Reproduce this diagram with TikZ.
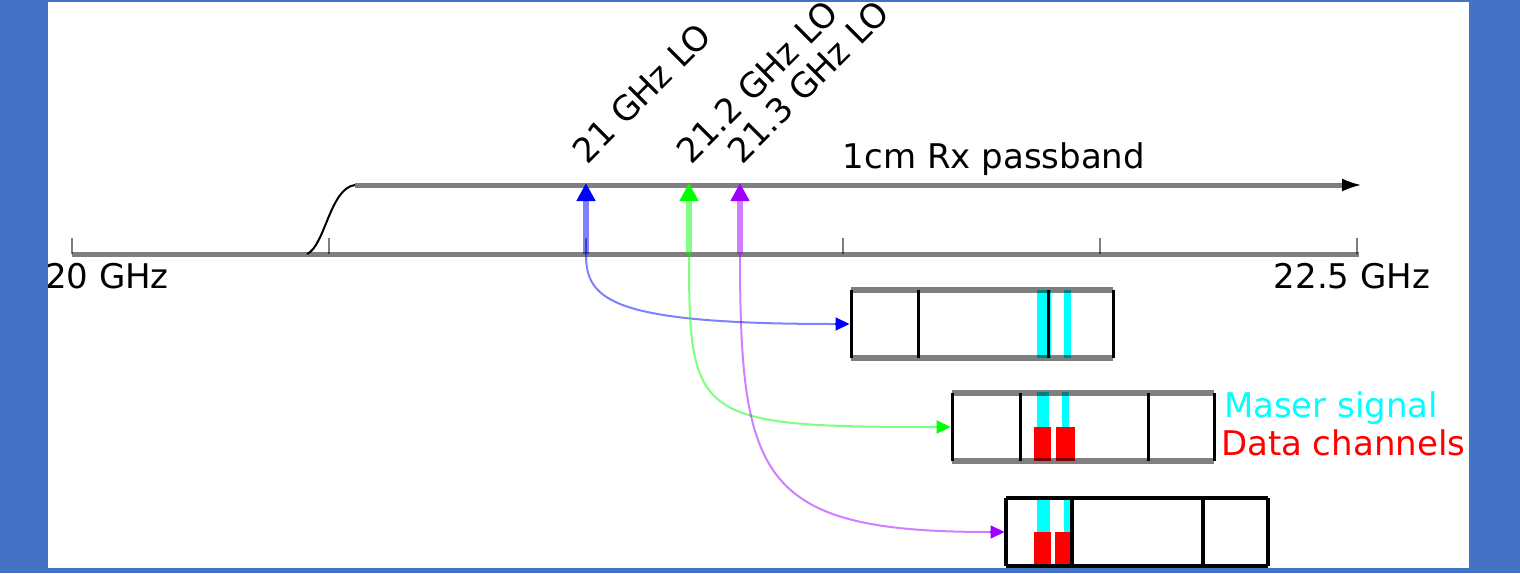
\documentclass[tikz,border=0pt]{standalone}
\usepackage{fontspec}
\setmainfont{DejaVu Sans}
\usetikzlibrary{arrows.meta}
\definecolor{slideblue}{HTML}{4472C4}
\definecolor{lopurple}{RGB}{160,0,255}
\definecolor{locyan}{RGB}{0,255,255}
\definecolor{lored}{RGB}{255,0,0}
\definecolor{logreen}{RGB}{0,255,0}
\definecolor{loblue}{RGB}{0,0,255}
\begin{document}
\begin{tikzpicture}[x=0.5pt,y=-0.5pt,
  lbl/.style={font=\fontsize{17}{20}\selectfont, inner sep=0pt, outer sep=0pt},
  axisline/.style={line width=2.5pt, draw=black, draw opacity=0.5},
  tickline/.style={line width=1.25pt, draw=black, draw opacity=0.5},
  loline/.style={line width=3pt, draw opacity=0.5},
  lotip/.style={-{Triangle[length=9pt,width=9pt]}, line width=3pt},
  ifline/.style={line width=1pt, draw opacity=0.5},
  iftip/.style={-{Triangle[length=7pt,width=6.5pt]}, line width=1pt},
  boxarea/.style={minimum width=131pt, minimum height=34pt, inner sep=0pt, outer sep=0pt},
  hborder/.style={line width=3pt, draw=black, draw opacity=0.5},
  vborder/.style={line width=1.5pt, draw=black},
  hborderdark/.style={line width=1.75pt, draw=black},
  vborderdark/.style={line width=1.75pt, draw=black},
  maser/.style={fill=locyan},
  datach/.style={fill=lored},
  ]
\useasboundingbox (0,0) rectangle (1520,573);
\fill[slideblue] (0,0) rectangle (1520,573);
\fill[white] (48,1.5) rectangle (1469,568);
\begin{scope}
\clip (48,1.5) rectangle (1469,568);

% frequency axis
\coordinate (ax0) at (72,254);
\coordinate (ax1) at (1359,254);
\draw[axisline] (ax0) -- (ax1);
\foreach \x in {72,329,586,843,1100,1357}
  \draw[tickline] (\x,238) -- (\x,254);

% passband
\coordinate (pb0) at (307,254);
\coordinate (pb1) at (355,185);
\coordinate (pb2) at (1342,185);
\coordinate (pbend) at (1361,185);
\draw[line width=1pt] (pb0) .. controls (325,246) and (330,188) .. (pb1);
\draw[axisline] (pb1) -- (pb2);
\draw[-{Latex[length=9.5pt,width=6.5pt]}, line width=1pt] (pb2) -- (pbend);

% LO arrows
\coordinate (f21) at (586,254);   \coordinate (t21b) at (586,201);  \coordinate (t21) at (586,183);
\coordinate (f212) at (689,254);  \coordinate (t212b) at (689,201); \coordinate (t212) at (689,183);
\coordinate (f213) at (740,254);  \coordinate (t213b) at (740,201); \coordinate (t213) at (740,183);
\draw[loline, draw=loblue] (f21) -- (t21b);
\draw[lotip, loblue] (t21b) -- (t21);
\draw[loline, draw=logreen] (f212) -- (t212b);
\draw[lotip, logreen] (t212b) -- (t212);
\draw[loline, draw=lopurple] (f213) -- (t213b);
\draw[lotip, lopurple] (t213b) -- (t213);

% IF boxes (areas)
\node[boxarea] (b1) at (982,324) {};
\node[boxarea] (b2) at (1083,427) {};
\node[boxarea] (b3) at (1137,532) {};

% curved arrows into boxes
\coordinate (e21b) at (835,324);
\coordinate (e212b) at (937,427);
\coordinate (e213b) at (990,532);
\draw[ifline, draw=loblue] (f21) .. controls (586,300) and (610,324) .. (e21b);
\draw[iftip, loblue, shorten >=0.75pt] (e21b) -- (b1.west);
\draw[ifline, draw=logreen] (f212) .. controls (689,420) and (695,427) .. (e212b);
\draw[iftip, logreen, shorten >=0.75pt] (e212b) -- (b2.west);
\draw[ifline, draw=lopurple] (f213) .. controls (740,480) and (760,532) .. (e213b);
\draw[iftip, lopurple, shorten >=0.75pt] (e213b) -- (b3.west);

% box 1 contents
\fill[maser] (1037,290) rectangle (1051,358);
\fill[maser] (1064,290) rectangle (1071,358);
% box 2 contents
\fill[maser] (1037,392) rectangle (1049,427);
\fill[maser] (1062,392) rectangle (1069,427);
\fill[datach] (1034,427) rectangle (1051,461);
\fill[datach] (1056,427) rectangle (1075,461);
% box 3 contents
\fill[maser] (1037,498) rectangle (1050,532);
\fill[maser] (1064,498) rectangle (1071,532);
\fill[datach] (1034,532) rectangle (1051,566);
\fill[datach] (1055,532) rectangle (1072,566);

% box 1 borders
\draw[vborder] (b1.north west) -- (b1.south west);
\draw[vborder] (918,290) -- (918,358);
\draw[vborder] (1048,290) -- (1048,358);
\draw[vborder] (b1.north east) -- (b1.south east);
\draw[hborder] (b1.north west) -- (b1.north east);
\draw[hborder] (b1.south west) -- (b1.south east);
% box 2 borders
\draw[vborder] (b2.north west) -- (b2.south west);
\draw[vborder] (1020,393) -- (1020,461);
\draw[vborder] (1148,393) -- (1148,461);
\draw[vborder] (b2.north east) -- (b2.south east);
\draw[hborder] (b2.north west) -- (b2.north east);
\draw[hborder] (b2.south west) -- (b2.south east);
% box 3 borders
\draw[vborderdark] (b3.north west) -- (b3.south west);
\draw[vborderdark] (1072,498) -- (1072,566);
\draw[vborderdark] (1203,498) -- (1203,566);
\draw[vborderdark] (b3.north east) -- (b3.south east);
\draw[hborderdark] (b3.north west) -- (b3.north east);
\draw[hborderdark] (b3.south west) -- (b3.south east);

% labels
\node[lbl, anchor=base west] (l20) at (45,288) {20 GHz};
\node[lbl, anchor=base] (l225) at (1352,288) {22.5 GHz};
\node[lbl, anchor=base] (lpb) at (994,168) {1cm Rx passband};
\node[lbl, rotate=45, anchor=base west] (l21) at (587,165) {21 GHz LO};
\node[lbl, rotate=45, anchor=base west] (l212) at (691,165) {21.2 GHz LO};
\node[lbl, rotate=45, anchor=base west] (l213) at (742,165) {21.3 GHz LO};
\node[lbl, anchor=base west, text=locyan] (lmaser) at (1224,417) {Maser signal};
\node[lbl, anchor=base west, text=lored] (ldata) at (1221,455) {Data channels};
\end{scope}
\end{tikzpicture}
\end{document}
